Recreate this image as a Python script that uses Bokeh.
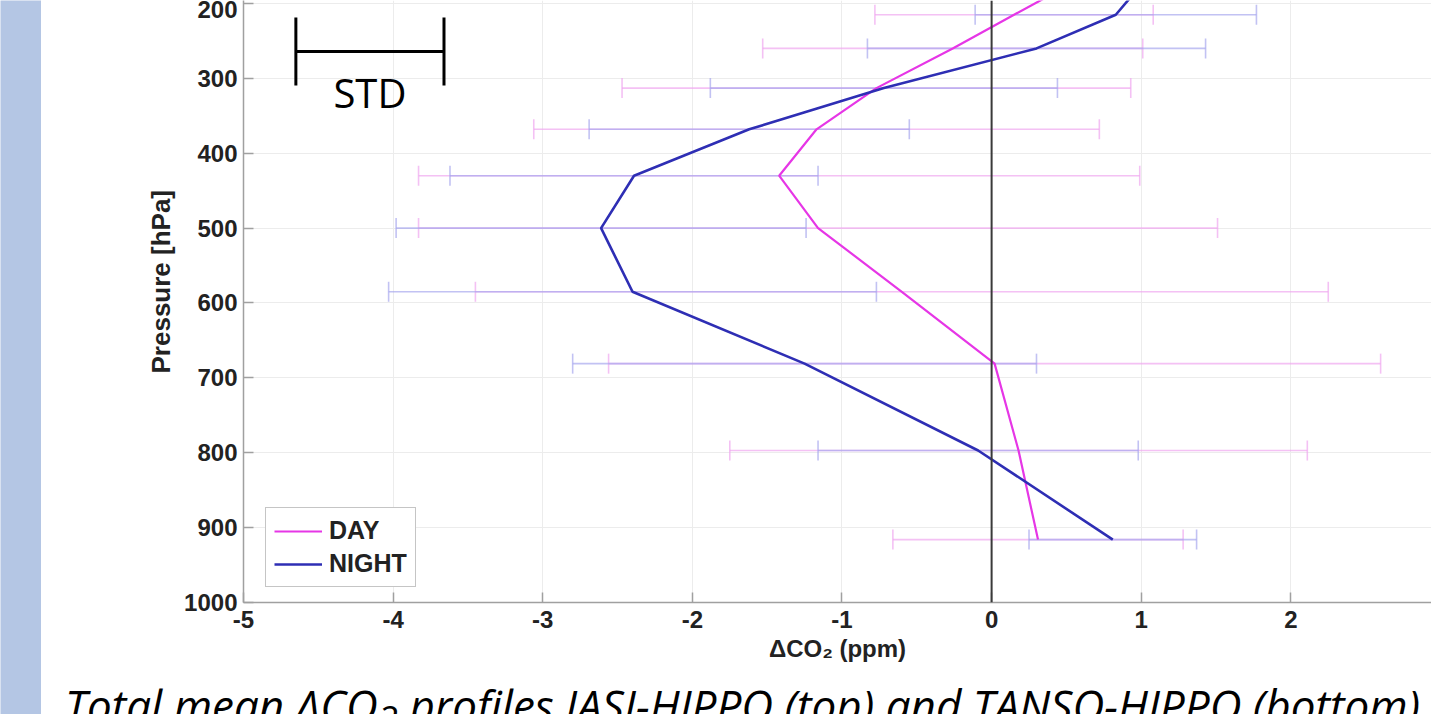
from bokeh.plotting import figure
from bokeh.layouts import row, column
from bokeh.models import (Range1d, FixedTicker, Whisker, TeeHead, ColumnDataSource,
                          Span, Label, Legend, LegendItem, Title, CustomJSTickFormatter, Div)
from bokeh.embed import file_html
from bokeh.resources import INLINE

# ---------------- data ----------------
pressure = [175, 215, 260, 313, 368, 430, 500, 585, 681, 797, 916]          # hPa
day_mean = [0.52, 0.15, -0.26, -0.77, -1.17, -1.42, -1.16, -0.60, 0.02, 0.18, 0.31]
day_std = [0.95, 0.93, 1.27, 1.70, 1.89, 2.41, 2.67, 2.85, 2.58, 1.93, 0.97]
night_mean = [1.00, 0.83, 0.30, -0.72, -1.62, -2.39, -2.61, -2.40, -1.25, -0.09, 0.81]
night_std = [0.95, 0.94, 1.13, 1.16, 1.07, 1.23, 1.37, 1.63, 1.55, 1.07, 0.56]

x_ticks = [-5, -4, -3, -2, -1, 0, 1, 2, 3]
y_ticks = [200, 300, 400, 500, 600, 700, 800, 900, 1000]
series_names = ["DAY", "NIGHT"]

# scale bar "STD" (1 ppm wide)
std_bar_left = [-4.65]
std_bar_right = [-3.66]
std_bar_p = [264]

x_label = "ΔCO₂ (ppm)"
y_label = "Pressure [hPa]"
caption_html = "Total mean ΔCO<sub>2</sub> profiles IASI-HIPPO (top) and TANSO-HIPPO (bottom)"

# ---------------- layout sizes ----------------
W, H = 1431, 714
BAND_W = 41
PLOT_W = W - BAND_W
PLOT_H = 684
CAP_H = H - PLOT_H
FRAME_LEFT = 243 - BAND_W
FRAME_BOTTOM = PLOT_H - 602
BAND_COLOR = "#b4c6e4"

# left slide band
band = figure(width=BAND_W, height=H, output_backend="svg", toolbar_location=None,
              x_axis_type=None, y_axis_type=None, min_border=0,
              background_fill_color=BAND_COLOR, border_fill_color=BAND_COLOR,
              outline_line_color=None)

# ---------------- main chart ----------------
p = figure(width=PLOT_W, height=PLOT_H, output_backend="svg", toolbar_location=None,
           x_range=Range1d(-5, 2.94), y_range=Range1d(1000, 196),
           min_border_left=FRAME_LEFT, min_border_right=0, min_border_top=0,
           min_border_bottom=FRAME_BOTTOM)
p.outline_line_color = None
p.background_fill_color = "white"
p.border_fill_color = "white"

p.xaxis.ticker = FixedTicker(ticks=x_ticks)
p.yaxis.ticker = FixedTicker(ticks=y_ticks)
p.xaxis.formatter = CustomJSTickFormatter(code="return String(tick);")
for ax in (p.xaxis[0], p.yaxis[0]):
    ax.major_label_text_font = "Liberation Sans"
    ax.major_label_text_font_style = "bold"
    ax.major_label_text_font_size = "24px"
    ax.major_label_text_color = "#222222"
    ax.axis_line_color = "#a0a0a0"
    ax.axis_line_width = 1.5
    ax.major_tick_line_color = "#a0a0a0"
    ax.major_tick_line_width = 1.5
    ax.major_tick_in = 10
    ax.major_tick_out = 0
    ax.minor_tick_line_color = None
p.yaxis.major_label_standoff = 6
p.xaxis.major_label_standoff = 8
p.xaxis.axis_label = x_label
p.xaxis.axis_label_text_font = "Liberation Sans"
p.xaxis.axis_label_text_font_style = "bold"
p.xaxis.axis_label_text_font_size = "24px"
p.xaxis.axis_label_text_color = "#222222"
p.xaxis.axis_label_standoff = 4

# y label, placed as in the original (starts at 373 px from top)
p.add_layout(Title(text=y_label, align="left", offset=229, vertical_align="bottom",
                   standoff=11, text_font="Liberation Sans", text_font_style="bold",
                   text_font_size="26px", text_color="#222222"), "left")

p.xgrid.grid_line_color = "#ececec"
p.ygrid.grid_line_color = "#ececec"

# error bars
src = ColumnDataSource(dict(
    p=pressure,
    day_lo=[m - s for m, s in zip(day_mean, day_std)],
    day_hi=[m + s for m, s in zip(day_mean, day_std)],
    night_lo=[m - s for m, s in zip(night_mean, night_std)],
    night_hi=[m + s for m, s in zip(night_mean, night_std)],
))
for lo, hi, col in (("day_lo", "day_hi", "#f0a6f0"), ("night_lo", "night_hi", "#a8a8ee")):
    w = Whisker(source=src, base="p", lower=lo, upper=hi, dimension="width",
                line_color=col, line_width=1.6, line_alpha=0.7, level="underlay",
                upper_head=TeeHead(size=20, line_color=col, line_width=1.6, line_alpha=0.7),
                lower_head=TeeHead(size=20, line_color=col, line_width=1.6, line_alpha=0.7))
    p.add_layout(w)

# profiles
r_day = p.line(day_mean, pressure, line_color="#e636e6", line_width=2.2)
r_night = p.line(night_mean, pressure, line_color="#2e2eb4", line_width=2.6)

# zero line
p.add_layout(Span(location=0, dimension="height", line_color="#3a3a3a", line_width=2))

# legend
legend = Legend(items=[LegendItem(label=series_names[0], renderers=[r_day]),
                       LegendItem(label=series_names[1], renderers=[r_night])],
                location=(22, 15), margin=0, padding=8, spacing=4,
                glyph_width=48, glyph_height=28, label_height=28, label_standoff=7,
                label_text_font="Liberation Sans", label_text_font_style="bold",
                label_text_font_size="25px", label_text_color="#222222",
                border_line_color="#8c8c8c", border_line_width=1,
                background_fill_color="white", background_fill_alpha=1)
p.add_layout(legend)

# STD scale bar
std_src = ColumnDataSource(dict(p=std_bar_p, lo=std_bar_left, hi=std_bar_right))
p.add_layout(Whisker(source=std_src, base="p", lower="lo", upper="hi", dimension="width",
                     line_color="black", line_width=3,
                     upper_head=TeeHead(size=68, line_color="black", line_width=3),
                     lower_head=TeeHead(size=68, line_color="black", line_width=3)))
p.add_layout(Label(x=(std_bar_left[0] + std_bar_right[0]) / 2, y=319, text="STD",
                   text_align="center", text_baseline="alphabetic",
                   text_font="Open Sans", text_font_size="40px", text_color="black"))

# ---------------- caption strip ----------------
cap = Div(text=('<div style="font-family:\'Open Sans\'; font-style:italic; font-size:44px; '
                'line-height:44px; white-space:nowrap; color:black; '
                'margin:-1px 0 0 %dpx; padding:0;">%s</div>') % (65 - BAND_W, caption_html),
          width=PLOT_W, height=CAP_H, margin=0,
          styles={"background-color": "white", "overflow": "hidden"})

layout = row(band, column(p, cap, spacing=0), spacing=0)
open("out.html", "w").write(file_html(layout, INLINE))
